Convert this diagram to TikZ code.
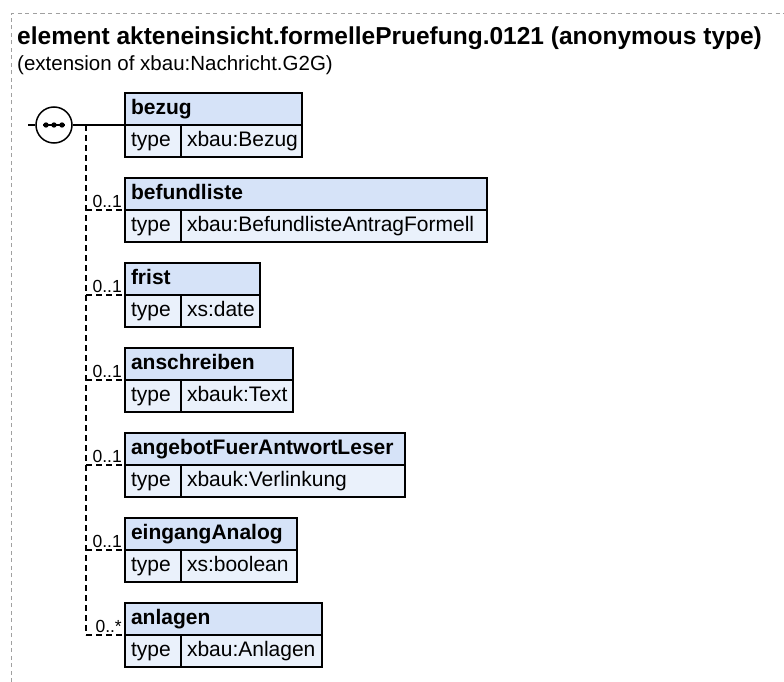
\documentclass[tikz,border=0pt]{standalone}
\usepackage{fontspec}
\setmainfont{Liberation Sans}
\usetikzlibrary{positioning}
\definecolor{chead}{HTML}{D6E3F8}
\definecolor{crow}{HTML}{EAF1FB}
\definecolor{cframe}{HTML}{A0A0A0}
\tikzset{
  hd/.style={draw, line width=1.5pt, fill=chead, anchor=north west, align=left,
             font=\fontsize{21}{24}\selectfont\bfseries, minimum height=32pt,
             inner xsep=6pt, inner ysep=0pt, outer sep=0pt, text height=15pt, text depth=4.5pt},
  tc/.style={draw, line width=1.5pt, fill=crow, align=left, font=\fontsize{21}{24}\selectfont,
             minimum height=32pt, text width=44pt, inner xsep=6pt, inner ysep=0pt, outer sep=0pt,
             text height=15pt, text depth=4.5pt},
  vc/.style={tc, text width=#1},
  ml/.style={font=\fontsize{17.5}{19}\selectfont, inner sep=0pt},
  ln/.style={line width=1.5pt},
  opt/.style={line width=1.6pt, dash pattern=on 6pt off 4pt},
  fr/.style={draw=cframe, line width=1pt, dash pattern=on 4pt off 3.5pt},
}
\begin{document}
\begin{tikzpicture}[x=1pt, y=-1pt, node distance=0pt]
  \useasboundingbox (0,0) rectangle (784,682);
  \draw[fr] (11,682) |- (784,14);
  \node[anchor=base west, inner sep=0pt, font=\fontsize{24.5}{28}\selectfont\bfseries] (ttl) at (17,45)
    {element akteneinsicht.formellePruefung.0121 (anonymous type)};
  \node[anchor=base west, inner sep=0pt, font=\fontsize{20.5}{24}\selectfont] (sub) at (17,71)
    {(extension of xbau:Nachricht.G2G)};

  % sequence
  \node[draw, circle, line width=1.5pt, fill=white, minimum size=36pt, inner sep=0pt] (seq) at (54,125) {};
  \draw[line width=1.2pt] ([xshift=-11pt]seq.center) -- ([xshift=11pt]seq.center);
  \fill ([xshift=-8pt]seq.center) circle (2.7pt) (seq.center) circle (2.7pt) ([xshift=8pt]seq.center) circle (2.7pt);

  % elements
  \node[hd, text width=165pt] (bezug) at (125,93) {bezug};
  \node[tc, below right=0pt and 0pt of bezug.south west] (bezugT) {type};
  \node[vc=109pt, right=of bezugT] (bezugV) {xbau:Bezug};

  \node[hd, text width=350pt] (befund) at (125,178) {befundliste};
  \node[tc, below right=0pt and 0pt of befund.south west] (befundT) {type};
  \node[vc=294pt, right=of befundT] (befundV) {xbau:BefundlisteAntragFormell};

  \node[hd, text width=123pt] (frist) at (125,263) {frist};
  \node[tc, below right=0pt and 0pt of frist.south west] (fristT) {type};
  \node[vc=67pt, right=of fristT] (fristV) {xs:date};

  \node[hd, text width=156pt] (anschr) at (125,348) {anschreiben};
  \node[tc, below right=0pt and 0pt of anschr.south west] (anschrT) {type};
  \node[vc=100pt, right=of anschrT] (anschrV) {xbauk:Text};

  \node[hd, text width=268pt] (angebot) at (125,433) {angebotFuerAntwortLeser};
  \node[tc, below right=0pt and 0pt of angebot.south west] (angebotT) {type};
  \node[vc=212pt, right=of angebotT] (angebotV) {xbauk:Verlinkung};

  \node[hd, text width=160pt] (eingang) at (125,518) {eingangAnalog};
  \node[tc, below right=0pt and 0pt of eingang.south west] (eingangT) {type};
  \node[vc=104pt, right=of eingangT] (eingangV) {xs:boolean};

  \node[hd, text width=185pt] (anlagen) at (125,603) {anlagen};
  \node[tc, below right=0pt and 0pt of anlagen.south west] (anlagenT) {type};
  \node[vc=129pt, right=of anlagenT] (anlagenV) {xbau:Anlagen};

  % multiplicities
  \node[ml, above left=2pt and 3pt of befund.south west] (befundM) {0..1};
  \node[ml, above left=2pt and 3pt of frist.south west] (fristM) {0..1};
  \node[ml, above left=2pt and 3pt of anschr.south west] (anschrM) {0..1};
  \node[ml, above left=2pt and 3pt of angebot.south west] (angebotM) {0..1};
  \node[ml, above left=2pt and 3pt of eingang.south west] (eingangM) {0..1};
  \node[ml, above left=2pt and 3pt of anlagen.south west] (anlagenM) {0..*};

  % connectors
  \coordinate (in) at (28,125);
  \coordinate (br) at (86,125);
  \draw[ln] (in) -- (seq) -- (bezug.south west);
  \draw[opt] (br) -- (br |- anlagen.south west);
  \draw[opt] (br |- befund.south west) -- (befund.south west);
  \draw[opt] (br |- frist.south west) -- (frist.south west);
  \draw[opt] (br |- anschr.south west) -- (anschr.south west);
  \draw[opt] (br |- angebot.south west) -- (angebot.south west);
  \draw[opt] (br |- eingang.south west) -- (eingang.south west);
  \draw[opt] (br |- anlagen.south west) -- (anlagen.south west);
\end{tikzpicture}
\end{document}
